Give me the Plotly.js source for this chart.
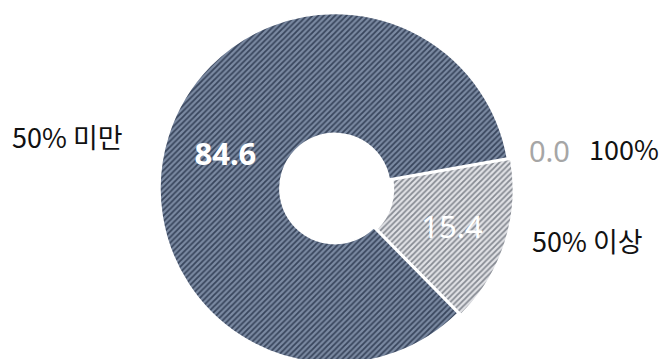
<!DOCTYPE html>
<html>
<head>
<meta charset="utf-8">
<script src="https://cdn.plot.ly/plotly-3.0.1.min.js"></script>
<style>
html,body{margin:0;padding:0;background:#fff;overflow:hidden;}
#chart{width:665px;height:370px;}
</style>
</head>
<body>
<div id="chart"></div>
<script>
// Data
var categories = ['100%', '50% 이상', '50% 미만'];
var shares = [0.0, 15.4, 84.6];
var valueFormats = ['%{value:.1f}', '%{value:.1f}', '<b>%{value:.1f}</b>'];

// Styles
var bgColors = ['#a6a6a6', '#e1e2e6', '#7b8aa2'];
var fgColors = ['#a6a6a6', '#868a92', '#38455c'];
var FONT = 'Noto Sans CJK KR';
var NUMFONT = 'Noto Sans';

var W = 665, M = {l: 5, r: 0, t: 10, b: 3}, H = 370;
var pw = W - M.l - M.r, ph = H - M.t - M.b;
function px(x){ return (x - M.l) / pw; }
function py(y){ return 1 - (y - M.t) / ph; }

var trace = {
  type: 'pie',
  labels: categories,
  values: shares,
  sort: false,
  direction: 'clockwise',
  rotation: 80,
  hole: 0.315,
  pull: [0, 0.02, 0],
  texttemplate: valueFormats,
  textposition: ['none', 'inside', 'inside'],
  insidetextorientation: 'horizontal',
  insidetextfont: {family: NUMFONT, size: 31, color: '#ffffff'},
  textfont: {family: NUMFONT, size: 31, color: '#ffffff'},
  marker: {
    colors: bgColors,
    line: {color: '#ffffff', width: 1.5},
    pattern: {shape: '/', fgcolor: fgColors, bgcolor: bgColors, size: 4, solidity: 0.45, fillmode: 'replace'}
  },
  showlegend: false,
  hoverinfo: 'none'
};

var annotations = [
  {x: px(67), y: py(136), text: categories[2], font: {size: 27, color: '#111111', family: FONT}},
  {x: px(587), y: py(240), text: categories[1], font: {size: 27, color: '#111111', family: FONT}},
  {x: px(624), y: py(149), text: categories[0], font: {size: 27, color: '#111111', family: FONT}},
  {x: px(549), y: py(151), text: shares[0].toFixed(1), font: {size: 29, color: '#a6a6a6', family: NUMFONT}}
].map(function(a){
  a.xref = 'paper'; a.yref = 'paper'; a.showarrow = false;
  a.xanchor = 'center'; a.yanchor = 'middle';
  return a;
});

var layout = {
  width: W, height: H,
  margin: M,
  paper_bgcolor: '#ffffff',
  plot_bgcolor: '#ffffff',
  annotations: annotations,
  showlegend: false
};

Plotly.newPlot('chart', [trace], layout, {displayModeBar: false, staticPlot: true});
</script>
</body>
</html>
